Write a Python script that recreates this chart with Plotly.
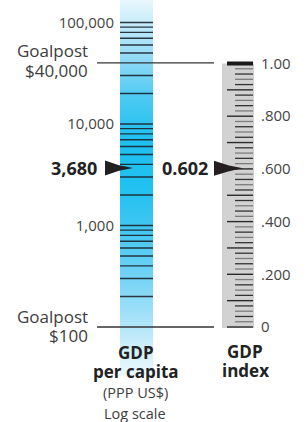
import numpy as np
import plotly.graph_objects as go

# ---------------- data ----------------
GDP_VALUE = 3680            # GDP per capita (PPP US$)
GDP_LABEL = "3,680"
INDEX_VALUE = 0.602         # GDP index
INDEX_LABEL = "0.602"
GOAL_MAX = 40000
GOAL_MIN = 100
GOAL_MAX_LABEL = "$40,000"
GOAL_MIN_LABEL = "$100"

LOG_TICKVALS = [1000, 10000, 100000]
LOG_TICKTEXT = ["1,000", "10,000", "100,000"]
LOG_MINOR = [200, 300, 400, 500, 600, 700, 800, 900,
             1000, 2000, 3000, 4000, 5000, 6000, 7000, 8000, 9000,
             10000, 20000, 30000, 50000, 60000, 70000, 80000, 90000, 100000]

IDX_TICKVALS = [0, 0.2, 0.4, 0.6, 0.8, 1.0]
IDX_TICKTEXT = ["0", ".200", ".400", ".600", ".800", "1.00"]
IDX_MINOR_STEP = 0.02

BAR_EXTENT = [33, 167000]   # extent of the blue GDP column (data units)

# ---------------- style ----------------
FONT = "Open Sans"
W, H = 306, 422
TXT = "#3d3d3d"
DARK = "#231f20"

def py(p):  # pixel row -> paper
    return 1 - p / H

fig = go.Figure()

# blue gradient column (log axis)
fig.add_trace(go.Scatter(
    x=[120, 153, 153, 120, 120],
    y=[BAR_EXTENT[0], BAR_EXTENT[0], BAR_EXTENT[1], BAR_EXTENT[1], BAR_EXTENT[0]],
    mode="lines", line=dict(width=0), fill="toself",
    fillgradient=dict(type="vertical", colorscale=[
        [0.0, "#edf8fd"], [0.08, "#cdeefa"], [0.15, "#a8e2f8"], [0.26, "#74d3f5"],
        [0.39, "#42c7f2"], [0.50, "#20c0f0"], [0.63, "#1fc0f0"], [0.74, "#4ccaf3"],
        [0.84, "#8fd9f6"], [0.95, "#cdeefb"], [1.0, "#e9f7fd"]]),
    hoverinfo="skip", showlegend=False, yaxis="y"))

# ticks on the blue column
tx, ty = [], []
for v in LOG_MINOR:
    tx += [120, 153, None]
    ty += [v, v, None]
fig.add_trace(go.Scatter(x=tx, y=ty, mode="lines",
                         line=dict(color="rgba(25,35,45,0.9)", width=1.4),
                         hoverinfo="skip", showlegend=False, yaxis="y"))

# goalpost lines
for g in [GOAL_MAX, GOAL_MIN]:
    fig.add_trace(go.Scatter(x=[97, 214], y=[g, g], mode="lines",
                             line=dict(color="#333333", width=1.3),
                             hoverinfo="skip", showlegend=False, yaxis="y"))

# GDP arrow
lv = np.log10(GDP_VALUE)
hh = 7.5 / 101.5
fig.add_trace(go.Scatter(
    x=[105, 119, 133, 119, 105, 105],
    y=[10 ** (lv + hh), 10 ** (lv + hh * 0.37), GDP_VALUE, 10 ** (lv - hh * 0.37), 10 ** (lv - hh), 10 ** (lv + hh)],
    mode="lines", line=dict(width=0), fill="toself", fillcolor=DARK,
    hoverinfo="skip", showlegend=False, yaxis="y"))

# grey index column
fig.add_trace(go.Scatter(x=[222, 254, 254, 222, 222], y=[-0.004, -0.004, 1.0, 1.0, -0.004],
                         mode="lines", line=dict(width=0), fill="toself", fillcolor="#d2d2d2",
                         hoverinfo="skip", showlegend=False, yaxis="y2"))

# index ticks
n = int(round(1 / IDX_MINOR_STEP))
groups = {"long": ([], []), "dark": ([], []), "grey": ([], [])}
for i in range(n):
    v = i * IDX_MINOR_STEP
    if i % 5 == 0:
        key, x0 = "long", 227
    elif i % 2 == 0:
        key, x0 = "dark", 235
    else:
        key, x0 = "grey", 235
    groups[key][0].extend([x0, 253, None])
    groups[key][1].extend([v, v, None])
styles = {"long": ("#2a2a2a", 1.4), "dark": ("#333333", 1.3), "grey": ("#7c7c7c", 1.3)}
for k, (gx, gy) in groups.items():
    fig.add_trace(go.Scatter(x=gx, y=gy, mode="lines",
                             line=dict(color=styles[k][0], width=styles[k][1]),
                             hoverinfo="skip", showlegend=False, yaxis="y2"))
# thick bar at 1.00
fig.add_trace(go.Scatter(x=[227, 253], y=[1.0, 1.0], mode="lines",
                         line=dict(color="#1a1a1a", width=4),
                         hoverinfo="skip", showlegend=False, yaxis="y2"))

# index arrow
ih = 7.5 / 263.5
fig.add_trace(go.Scatter(
    x=[214, 229, 243, 229, 214, 214],
    y=[INDEX_VALUE + ih, INDEX_VALUE + ih * 0.37, INDEX_VALUE, INDEX_VALUE - ih * 0.37, INDEX_VALUE - ih, INDEX_VALUE + ih],
    mode="lines", line=dict(width=0), fill="toself", fillcolor=DARK,
    hoverinfo="skip", showlegend=False, yaxis="y2"))

# ---------------- annotations ----------------
ann = []
def add(text, x, p, size, bold=False, xanchor="center", color=TXT):
    t = f"<b>{text}</b>" if bold else text
    ann.append(dict(text=t, x=x, xref="x", y=py(p), yref="paper", xanchor=xanchor,
                    yanchor="middle", showarrow=False,
                    font=dict(family=FONT, size=size, color=color)))

add("Goalpost", 90, 51, 17, xanchor="right")
add(GOAL_MAX_LABEL, 90, 70, 17, xanchor="right")
add("Goalpost", 90, 316, 17, xanchor="right")
add(GOAL_MIN_LABEL, 90, 335, 17, xanchor="right")

add("GDP", 136, 352, 17, bold=True, color="#222222")
add("per capita", 136, 371, 17, bold=True, color="#222222")
add("(PPP US$)", 135, 392, 14.5, color=TXT)
add("Log scale", 135, 413, 14.5, color=TXT)
add("GDP", 245, 351, 17, bold=True, color="#222222")
add("index", 245, 370, 17, bold=True, color="#222222")

ann.append(dict(text=f"<b>{GDP_LABEL}</b>", x=99, xref="x", y=np.log10(GDP_VALUE), yref="y",
                xanchor="right", yanchor="middle", showarrow=False,
                font=dict(family=FONT, size=18, color="#222222")))
ann.append(dict(text=f"<b>{INDEX_LABEL}</b>", x=210, xref="x", y=INDEX_VALUE, yref="y2",
                xanchor="right", yanchor="middle", showarrow=False,
                font=dict(family=FONT, size=18, color="#222222")))

# ---------------- layout ----------------
fig.update_layout(
    width=W, height=H, margin=dict(l=0, r=0, t=0, b=0),
    paper_bgcolor="white", plot_bgcolor="white",
    xaxis=dict(range=[0, W], domain=[0, 1], visible=False, fixedrange=True),
    yaxis=dict(type="log", range=[2 - (H - 327) / 101.5, 2 + 327 / 101.5], domain=[0, 1],
               anchor="free", position=120 / W, side="left",
               tickvals=LOG_TICKVALS, ticktext=LOG_TICKTEXT, ticks="",
               showgrid=False, zeroline=False, showline=False, automargin=False,
               ticklabelstandoff=6,
               tickfont=dict(family=FONT, size=15, color="#444444")),
    yaxis2=dict(range=[-(H - 327) / 263.5, 327 / 263.5], domain=[0, 1], overlaying="y",
                anchor="free", position=254 / W, side="right",
                tickvals=IDX_TICKVALS, ticktext=IDX_TICKTEXT, ticks="",
                showgrid=False, zeroline=False, showline=False, automargin=False,
                ticklabelstandoff=6,
                tickfont=dict(family=FONT, size=15, color="#444444")),
    annotations=ann, showlegend=False,
)

fig.write_html("out.html", config={"displayModeBar": False, "staticPlot": True},
               post_script="document.body.style.margin='0';document.body.style.padding='0';"
                           "document.body.style.overflow='hidden';")
